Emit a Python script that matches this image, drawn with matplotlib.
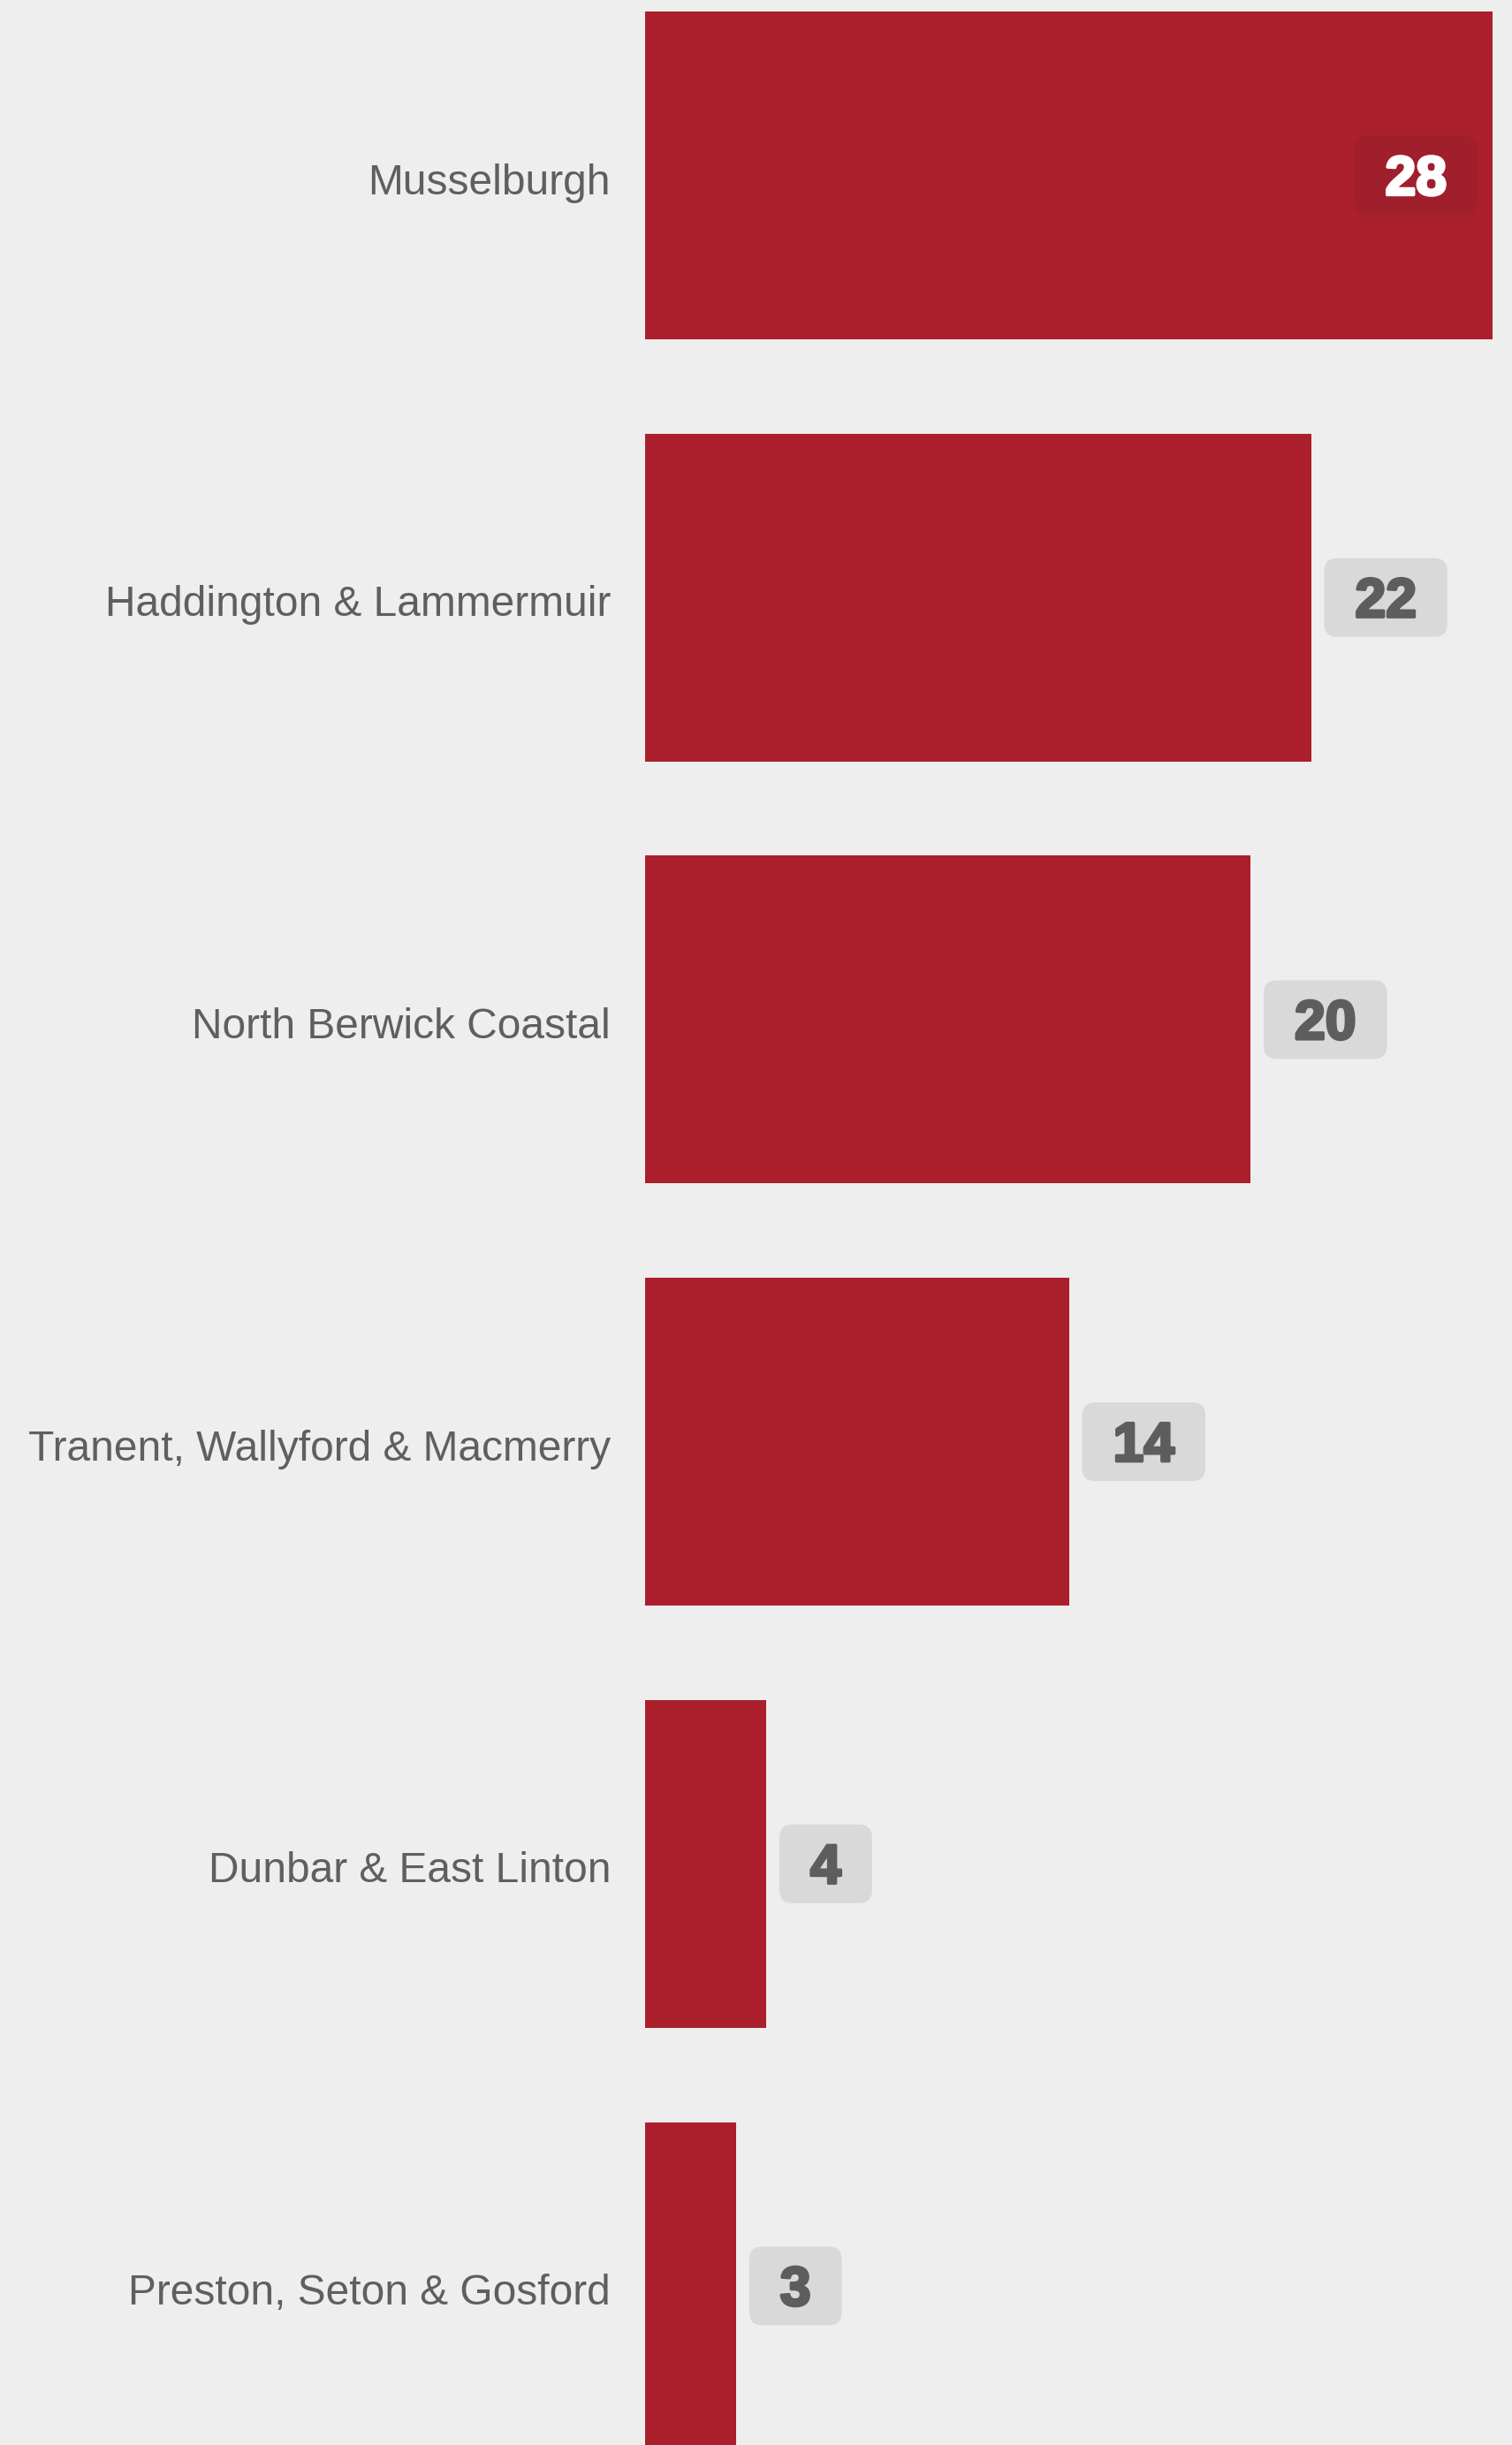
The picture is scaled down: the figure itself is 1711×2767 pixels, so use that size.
import matplotlib
matplotlib.use("Agg")
import matplotlib.pyplot as plt
from matplotlib.patches import FancyBboxPatch
from matplotlib.transforms import ScaledTranslation, IdentityTransform
import matplotlib.patheffects as pe

# data
wards = ["Musselburgh", "Haddington & Lammermuir", "North Berwick Coastal",
         "Tranent, Wallyford & Macmerry", "Dunbar & East Linton",
         "Preston, Seton & Gosford"]
counts = [28, 22, 20, 14, 4, 3]

BG = "#eeeeee"
BAR = "#ab1f2d"
LABEL_COL = "#5f5f5f"
BOX_GREY = "#d9d9d9"
BOX_RED = "#a01f2c"
NUM_COL = "#5d5d5b"

DPI = 100
W, H = 1711, 2767
fig = plt.figure(figsize=(W / DPI, H / DPI), dpi=DPI, facecolor=BG)
ax_left = 730
ax = fig.add_axes([ax_left / W, 0, 1 - ax_left / W, 1])
ax.set_facecolor(BG)

px_x = 34.25      # px per unit (x)
px_y = 477.7      # px per bar slot
ax.set_xlim(0, (W - ax_left) / px_x)
ax.set_ylim((H - 198.5) / px_y, -198.5 / px_y)
for s in ax.spines.values():
    s.set_visible(False)
ax.set_xticks([])
ax.set_yticks([])

ypos = list(range(len(wards)))
ax.barh(ypos, counts, height=371 / px_y, color=BAR, lw=0, zorder=2)


def px_off(dx, dy):
    return ScaledTranslation(dx / DPI, -dy / DPI, fig.dpi_scale_trans)


# category labels
for i, name in enumerate(wards):
    ax.text(0, i, name, transform=ax.transData + px_off(-39, 21),
            ha="right", va="baseline", fontsize=34.5, color=LABEL_COL,
            family="Liberation Sans")

# value badges
fig.canvas.draw()
renderer = fig.canvas.get_renderer()
top = max(counts)
for i, v in enumerate(counts):
    inside = v == top
    col = "white" if inside else NUM_COL
    t = ax.text(v, i, str(v), ha="center", va="baseline", fontsize=45,
                fontweight="bold", family="Liberation Sans", color=col,
                path_effects=[pe.withStroke(linewidth=2.4, foreground=col)],
                zorder=5, clip_on=False)
    tw = t.get_window_extent(renderer).width
    bw, bh = tw + 70, 89
    cx = (-17 - bw / 2) if inside else (15 + bw / 2)
    t.set_transform(ax.transData + px_off(cx, 22))
    xd, yd = ax.transData.transform((v, i))
    box = FancyBboxPatch((xd + cx - bw / 2, yd - bh / 2), bw, bh,
                         boxstyle="round,pad=0,rounding_size=15",
                         transform=IdentityTransform(),
                         facecolor=BOX_RED if inside else BOX_GREY,
                         edgecolor="none", zorder=4, clip_on=False)
    ax.add_artist(box)

fig.savefig("out.png", dpi=DPI, facecolor=BG)
